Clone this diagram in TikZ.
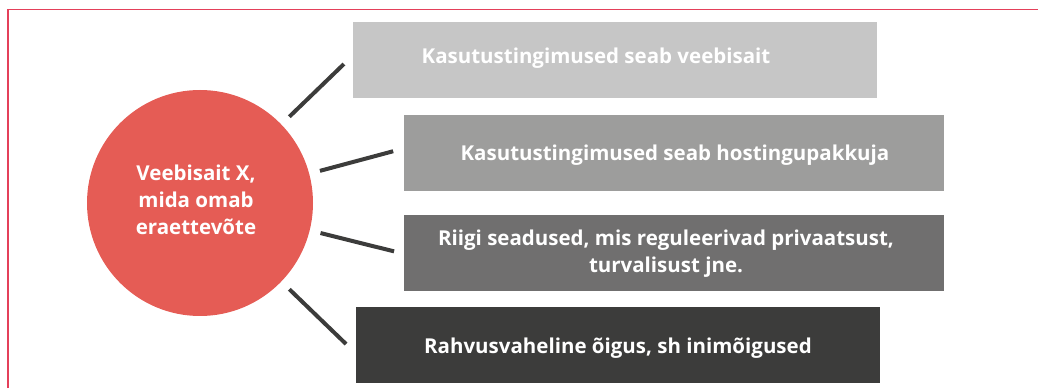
\documentclass[tikz,border=0pt]{standalone}
\usepackage{fontspec}
\setmainfont{Open Sans}
\usepackage{tikz}
\usetikzlibrary{positioning, calc}
\usepackage{xcolor}

\definecolor{framered}{HTML}{E4405A}
\definecolor{circred}{HTML}{E55C55}
\definecolor{greyA}{HTML}{C6C6C6}
\definecolor{greyB}{HTML}{9D9D9C}
\definecolor{greyC}{HTML}{706F6F}
\definecolor{greyD}{HTML}{3C3C3B}

\tikzset{
  box/.style={rectangle, inner sep=0pt, minimum height=76pt},
  boxtext/.style={text=white, font=\fontsize{20.5}{27}\selectfont\bfseries, align=center, inner sep=0pt},
  link/.style={draw=greyD, line width=4pt, shorten <=11pt},
}

\begin{document}
\begin{tikzpicture}[x=1pt, y=1pt]
\useasboundingbox (0,0) rectangle (1038,388);

% frame
\draw[framered, line width=1.5pt] (8,0) |- (1038,378.5);

% centre circle
\node[circle, fill=circred, minimum size=226pt, inner sep=0pt] (circ) at (200,185) {};
\node[boxtext] (circtext) at (196,188) {Veebisait X,\\mida omab\\eraettevõte};

% boxes
\node[box, fill=greyA, minimum width=524pt] (b1) at (615,327.5) {};
\node[boxtext] (t1) at ($(b1.center)+(-19,2)$) {Kasutustingimused seab veebisait};

\node[box, fill=greyB, minimum width=540pt] (b2) at (674,235) {};
\node[boxtext] (t2) at ($(b2.center)+(1,-2)$) {Kasutustingimused seab hostingupakkuja};

\node[box, fill=greyC, minimum width=540pt] (b3) at (674,135) {};
\node[boxtext] (t3) at ($(b3.center)+(-8,-1)$) {Riigi seadused, mis reguleerivad privaatsust,\\turvalisust jne.};

\node[box, fill=greyD, minimum width=524pt] (b4) at (618,43) {};
\node[boxtext] (t4) at ($(b4.center)+(0,-3)$) {Rahvusvaheline õigus, sh inimõigused};

% connectors
\coordinate (e1) at ($(circ.center)+(44:200)$);
\coordinate (e2) at ($(circ.center)+(15:200)$);
\coordinate (e3) at ($(circ.center)+(-14:200)$);
\coordinate (e4) at ($(circ.center)+(-44:203)$);
\draw[link] (circ.44) -- (e1);
\draw[link] (circ.15) -- (e2);
\draw[link] (circ.-14) -- (e3);
\draw[link] (circ.-44) -- (e4);
\end{tikzpicture}
\end{document}
